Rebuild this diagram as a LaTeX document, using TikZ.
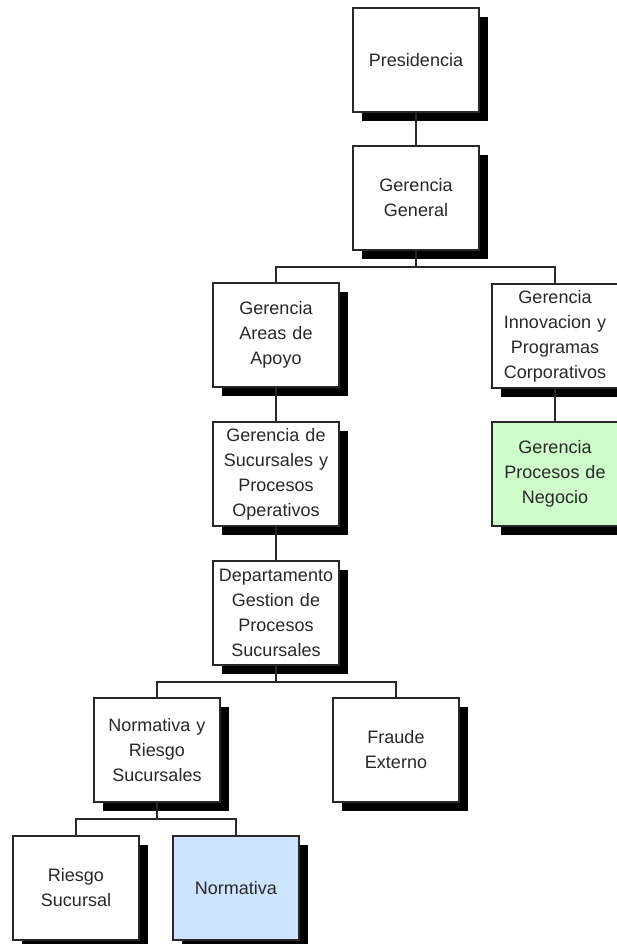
\documentclass[tikz,border=0pt]{standalone}
\usepackage{fontspec}
\setmainfont{Liberation Sans}
\usetikzlibrary{shadows}
\definecolor{boxgreen}{RGB}{206,252,202}
\definecolor{boxblue}{RGB}{204,228,253}
\definecolor{inkgray}{RGB}{40,40,40}
\begin{document}
\begin{tikzpicture}[x=1pt,y=-1pt,
  unit/.style={draw=inkgray, line width=1.2pt, fill=white,
    minimum width=126pt, minimum height=104pt, inner sep=2pt,
    text width=122pt, align=center, text=inkgray,
    font=\fontsize{18pt}{25pt}\selectfont,
    drop shadow={shadow xshift=9pt, shadow yshift=-9pt, fill=black, opacity=1}},
  link/.style={draw=inkgray, line width=1.2pt}]
\useasboundingbox (0,0) rectangle (617,944);

% units
\node[unit] (pres) at (416,60) {Presidencia};
\node[unit] (gg) at (416,198) {Gerencia\\General};
\node[unit] (apoyo) at (276,335) {Gerencia\\Areas de\\Apoyo};
\node[unit] (innov) at (555,336) {Gerencia\\Innovacion y\\Programas\\Corporativos};
\node[unit] (suc) at (276,474) {Gerencia de\\Sucursales y\\Procesos\\Operativos};
\node[unit, fill=boxgreen] (neg) at (555,474) {Gerencia\\Procesos de\\Negocio};
\node[unit] (depto) at (276,613) {Departamento\\Gestion de\\Procesos\\Sucursales};
\node[unit] (nrs) at (157,750) {Normativa y\\Riesgo\\Sucursales};
\node[unit] (fraude) at (396,750) {Fraude\\Externo};
\node[unit] (riesgo) at (76,888) {Riesgo\\Sucursal};
\node[unit, fill=boxblue] (norm) at (236,888) {Normativa};

% bus coordinates for the branching levels
\coordinate (busA) at (416,267);
\coordinate (busB) at (276,682);
\coordinate (busC) at (157,819);

% connectors
\draw[link] (pres) -- (gg);
\draw[link] (gg.south) -- (busA) -| (apoyo.north);
\draw[link] (busA) -| (innov.north);
\draw[link] (apoyo) -- (suc);
\draw[link] (suc) -- (depto);
\draw[link] (innov) -- (neg);
\draw[link] (depto.south) -- (busB) -| (nrs.north);
\draw[link] (busB) -| (fraude.north);
\draw[link] (nrs.south) -- (busC) -| (riesgo.north);
\draw[link] (busC) -| (norm.north);
\end{tikzpicture}
\end{document}
